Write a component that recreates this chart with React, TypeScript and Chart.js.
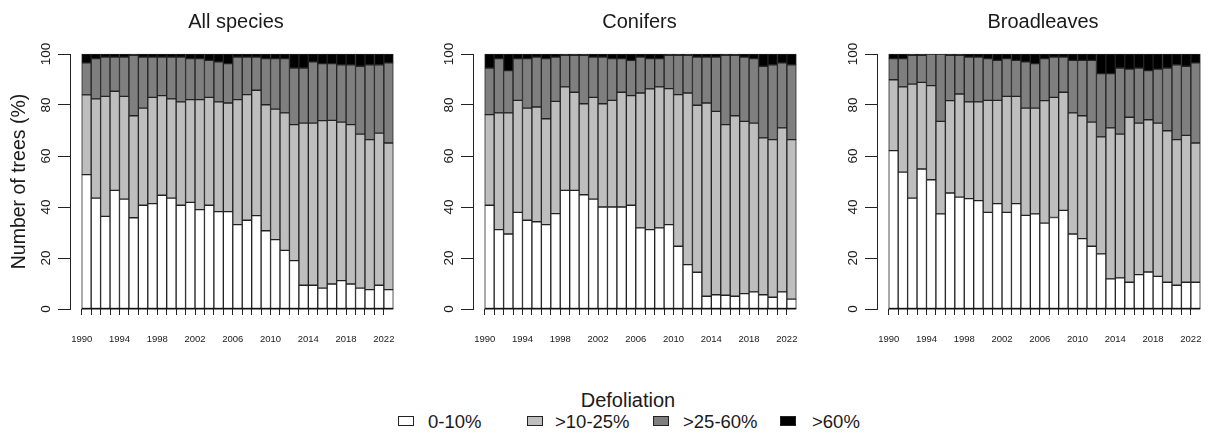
import React, { useEffect, useRef } from "react";
import { Chart, registerables } from "chart.js";

Chart.register(...registerables);

const years = [
  1990, 1991, 1992, 1993, 1994, 1995, 1996, 1997, 1998, 1999, 2000, 2001, 2002, 2003, 2004, 2005, 2006,
  2007, 2008, 2009, 2010, 2011, 2012, 2013, 2014, 2015, 2016, 2017, 2018, 2019, 2020, 2021, 2022,
];
const yTickValues = [0, 20, 40, 60, 80, 100];
const legendLabels = ["0-10%", ">10-25%", ">25-60%", ">60%"];
const classColors = ["#FFFFFF", "#BEBEBE", "#7F7F7F", "#000000"];
const panelTitles = ["All species", "Conifers", "Broadleaves"];

// All species
const allWhite = [52.7, 43.5, 36.3, 46.5, 43.1, 35.8, 40.7, 41.3, 44.6, 43.5, 40.7, 41.8, 39.0, 40.7, 38.2, 38.2, 33.1, 34.8, 36.6, 30.7, 27.2, 23.0, 19.0, 9.3, 9.3, 8.2, 9.8, 11.1, 9.8, 8.2, 7.6, 9.3, 7.6];
const allLight = [31.3, 38.9, 47.1, 38.9, 40.3, 40.0, 38.1, 41.7, 39.1, 38.9, 40.5, 40.3, 43.1, 42.3, 43.0, 42.6, 49.0, 49.3, 49.2, 49.4, 51.2, 53.9, 53.3, 63.6, 63.6, 65.7, 64.2, 62.2, 62.5, 60.4, 58.8, 59.7, 57.5];
const allDark = [12.5, 15.8, 15.4, 13.4, 15.4, 23.7, 20.0, 15.8, 15.1, 16.4, 17.6, 16.1, 16.1, 14.5, 15.7, 15.4, 16.7, 14.7, 13.0, 18.1, 19.8, 21.3, 22.2, 21.6, 24.0, 22.3, 22.2, 22.5, 23.5, 26.6, 29.4, 26.8, 31.4];
const allBlack = [3.5, 1.8, 1.2, 1.2, 1.2, 0.5, 1.2, 1.2, 1.2, 1.2, 1.2, 1.8, 1.8, 2.5, 3.1, 3.8, 1.2, 1.2, 1.2, 1.8, 1.8, 1.8, 5.5, 5.5, 3.1, 3.8, 3.8, 4.2, 4.2, 4.8, 4.2, 4.2, 3.5];

// Conifers
const conWhite = [40.7, 31.1, 29.4, 37.9, 34.8, 34.2, 33.1, 37.4, 46.5, 46.5, 44.8, 43.1, 40.0, 40.0, 40.0, 40.7, 31.8, 31.1, 31.8, 33.1, 24.6, 17.4, 14.4, 5.0, 5.6, 5.4, 5.0, 6.0, 6.7, 5.6, 4.6, 6.7, 3.9];
const conLight = [35.5, 45.8, 47.5, 43.9, 44.0, 45.0, 41.5, 44.0, 40.6, 38.5, 35.7, 39.9, 40.5, 41.8, 45.0, 43.0, 52.9, 55.2, 55.3, 53.3, 59.5, 67.3, 65.5, 75.8, 71.9, 66.9, 70.8, 67.6, 66.2, 61.5, 61.8, 64.3, 62.5];
const conDark = [18.3, 21.3, 16.6, 16.4, 19.4, 19.6, 23.6, 17.4, 12.4, 14.5, 19.0, 15.8, 18.3, 16.4, 13.2, 13.8, 14.1, 11.9, 11.1, 13.1, 15.4, 14.8, 18.9, 18.0, 21.3, 27.2, 23.7, 25.2, 25.3, 28.1, 29.4, 25.5, 29.4];
const conBlack = [5.5, 1.8, 6.5, 1.8, 1.8, 1.2, 1.8, 1.2, 0.5, 0.5, 0.5, 1.2, 1.2, 1.8, 1.8, 2.5, 1.2, 1.8, 1.8, 0.5, 0.5, 0.5, 1.2, 1.2, 1.2, 0.5, 0.5, 1.2, 1.8, 4.8, 4.2, 3.5, 4.2];

// Broadleaves
const brWhite = [62.1, 53.7, 43.5, 54.9, 50.7, 37.3, 45.5, 43.9, 43.3, 42.5, 37.9, 41.3, 37.9, 41.3, 36.7, 37.3, 33.7, 35.9, 38.7, 29.4, 27.6, 24.6, 21.6, 11.8, 12.2, 10.5, 13.5, 14.5, 12.8, 10.5, 9.3, 10.5, 10.5];
const brLight = [27.8, 33.4, 44.7, 34.0, 36.9, 36.3, 36.2, 40.4, 37.9, 38.7, 43.9, 40.5, 45.5, 42.1, 42.1, 41.5, 48.0, 47.1, 46.3, 47.5, 48.2, 48.7, 45.9, 59.2, 56.4, 64.7, 59.4, 59.7, 60.1, 59.4, 57.1, 57.6, 54.6];
const brDark = [8.3, 11.1, 11.3, 10.6, 12.4, 26.4, 17.8, 15.2, 17.6, 17.6, 16.4, 15.7, 14.8, 14.1, 18.1, 17.4, 16.5, 15.8, 13.8, 20.6, 21.7, 24.2, 24.8, 21.3, 25.9, 18.9, 21.6, 19.3, 21.2, 24.6, 29.4, 27.1, 31.4];
const brBlack = [1.8, 1.8, 0.5, 0.5, 0.0, 0.0, 0.5, 0.5, 1.2, 1.2, 1.8, 2.5, 1.8, 2.5, 3.1, 3.8, 1.8, 1.2, 1.2, 2.5, 2.5, 2.5, 7.7, 7.7, 5.5, 5.9, 5.5, 6.5, 5.9, 5.5, 4.2, 4.8, 3.5];

const FONT = "'Liberation Sans', Arial, Helvetica, sans-serif";
const INK = "#1a1a1a";
const LINE = "#222222";

// y tick labels drawn rotated (as in the R original), positioned by the y scale;
// x axis base line positioned by the x scale
const axisDecor = {
  id: "axisDecor",
  afterDraw(chart: any) {
    const ctx = chart.ctx;
    const xs = chart.scales.x;
    const ys = chart.scales.y;

    ctx.save();
    ctx.font = `13.5px ${FONT}`;
    ctx.fillStyle = INK;
    ctx.textAlign = "center";
    ctx.textBaseline = "middle";
    const lx = chart.chartArea.left - 23.5;
    for (const t of ys.ticks) {
      const py = ys.getPixelForValue(t.value);
      ctx.save();
      ctx.translate(lx, py);
      ctx.rotate(-Math.PI / 2);
      ctx.fillText(String(t.value), 0, 0);
      ctx.restore();
    }
    ctx.restore();

    const base = ys.getPixelForValue(0);
    const x0 = xs.getPixelForValue(years[0] - 0.5);
    const x1 = xs.getPixelForValue(years[years.length - 1] + 0.5);
    ctx.save();
    ctx.fillStyle = "#111111";
    ctx.fillRect(x0, base - 1, x1 - x0, 1.5);
    ctx.restore();
  },
};

function Panel({ series, showYTitle, left }: { series: number[][]; showYTitle: boolean; left: number }) {
  const ref = useRef<HTMLCanvasElement | null>(null);
  useEffect(() => {
    if (!ref.current) return;
    const chart = new Chart(ref.current, {
      type: "bar",
      data: {
        datasets: series.map((vals, k) => ({
          label: legendLabels[k],
          data: years.map((yr, i) => ({ x: yr, y: vals[i] })),
          backgroundColor: classColors[k],
          borderColor: LINE,
          borderWidth: 1,
          borderSkipped: false,
          barPercentage: 1,
          categoryPercentage: 1,
          clip: false,
        })),
      } as any,
      options: {
        animation: false,
        responsive: false,
        maintainAspectRatio: false,
        layout: { padding: { top: 54, right: 9.7, left: 0, bottom: 0 } },
        plugins: {
          legend: { display: false },
          tooltip: { enabled: false },
          title: { display: false },
        },
        scales: {
          x: {
            type: "linear",
            stacked: true,
            min: 1988.26,
            max: 2022.5,
            offset: false,
            afterBuildTicks: (s: any) => {
              s.ticks = years.map((v) => ({ value: v - 0.5 }));
            },
            afterFit: (s: any) => {
              s.height = 51;
              s.paddingLeft = 0;
              s.paddingRight = 0;
            },
            ticks: {
              autoSkip: false,
              maxRotation: 0,
              minRotation: 0,
              padding: 19,
              color: INK,
              font: { family: FONT, size: 9.5 },
              callback: (v: any) => {
                const yr = Math.round(Number(v) + 0.5);
                return (yr - 1990) % 4 === 0 ? String(yr) : "";
              },
            },
            grid: {
              display: true,
              drawOnChartArea: false,
              drawTicks: true,
              tickLength: 6,
              color: LINE,
              tickColor: LINE,
              tickWidth: 1,
              offset: false,
            },
            border: { display: false },
          },
          y: {
            type: "linear",
            stacked: true,
            min: 0,
            max: 100,
            afterBuildTicks: (s: any) => {
              s.ticks = yTickValues.map((v) => ({ value: v }));
            },
            afterFit: (s: any) => {
              s.width = 70;
              s.paddingTop = 0;
              s.paddingBottom = 0;
            },
            ticks: { display: false, stepSize: 20 },
            grid: { drawOnChartArea: false, drawTicks: true, tickLength: 12, color: LINE, tickColor: LINE },
            border: { display: true, color: LINE, width: 1 },
            title: {
              display: showYTitle,
              text: "Number of trees (%)",
              color: INK,
              font: { family: FONT, size: 19.5 },
              padding: { top: 8.3, bottom: 0 },
            },
          },
        },
      } as any,
      plugins: [axisDecor],
    });
    return () => chart.destroy();
  }, []);
  return (
    <canvas
      ref={ref}
      width={403}
      height={360}
      style={{ position: "absolute", left, top: 0, width: 403, height: 360 }}
    />
  );
}

const panelSeries = [
  [allWhite, allLight, allDark, allBlack],
  [conWhite, conLight, conDark, conBlack],
  [brWhite, brLight, brDark, brBlack],
];
const panelLefts = [0, 403, 807];
const titleCenters = [236, 639.5, 1043];
const legendBoxLefts = [398, 527, 653, 780];
const legendTextLefts = [428, 555, 683, 812];

export default function App() {
  return (
    <div
      style={{
        position: "absolute",
        left: 0,
        top: 0,
        width: 1210,
        height: 435,
        background: "#fff",
        fontFamily: FONT,
        color: INK,
        overflow: "hidden",
      }}
    >
      {panelSeries.map((s, i) => (
        <Panel key={i} series={s} showYTitle={i === 0} left={panelLefts[i]} />
      ))}
      {panelTitles.map((t, i) => (
        <div
          key={t}
          style={{
            position: "absolute",
            left: titleCenters[i] - 150,
            width: 300,
            top: 9.2,
            textAlign: "center",
            fontSize: 20,
            lineHeight: "24px",
            whiteSpace: "nowrap",
          }}
        >
          {t}
        </div>
      ))}
      <div
        style={{
          position: "absolute",
          left: 628 - 150,
          width: 300,
          top: 388.2,
          textAlign: "center",
          fontSize: 20,
          lineHeight: "24px",
        }}
      >
        Defoliation
      </div>
      {legendLabels.map((lab, k) => (
        <React.Fragment key={lab}>
          <div
            style={{
              position: "absolute",
              left: legendBoxLefts[k],
              top: 415.5,
              width: 16,
              height: 10,
              boxSizing: "border-box",
              border: `1px solid ${LINE}`,
              background: classColors[k],
            }}
          />
          <div
            style={{
              position: "absolute",
              left: legendTextLefts[k],
              top: 410.5,
              fontSize: 18.5,
              lineHeight: "21px",
              whiteSpace: "nowrap",
            }}
          >
            {lab}
          </div>
        </React.Fragment>
      ))}
    </div>
  );
}
